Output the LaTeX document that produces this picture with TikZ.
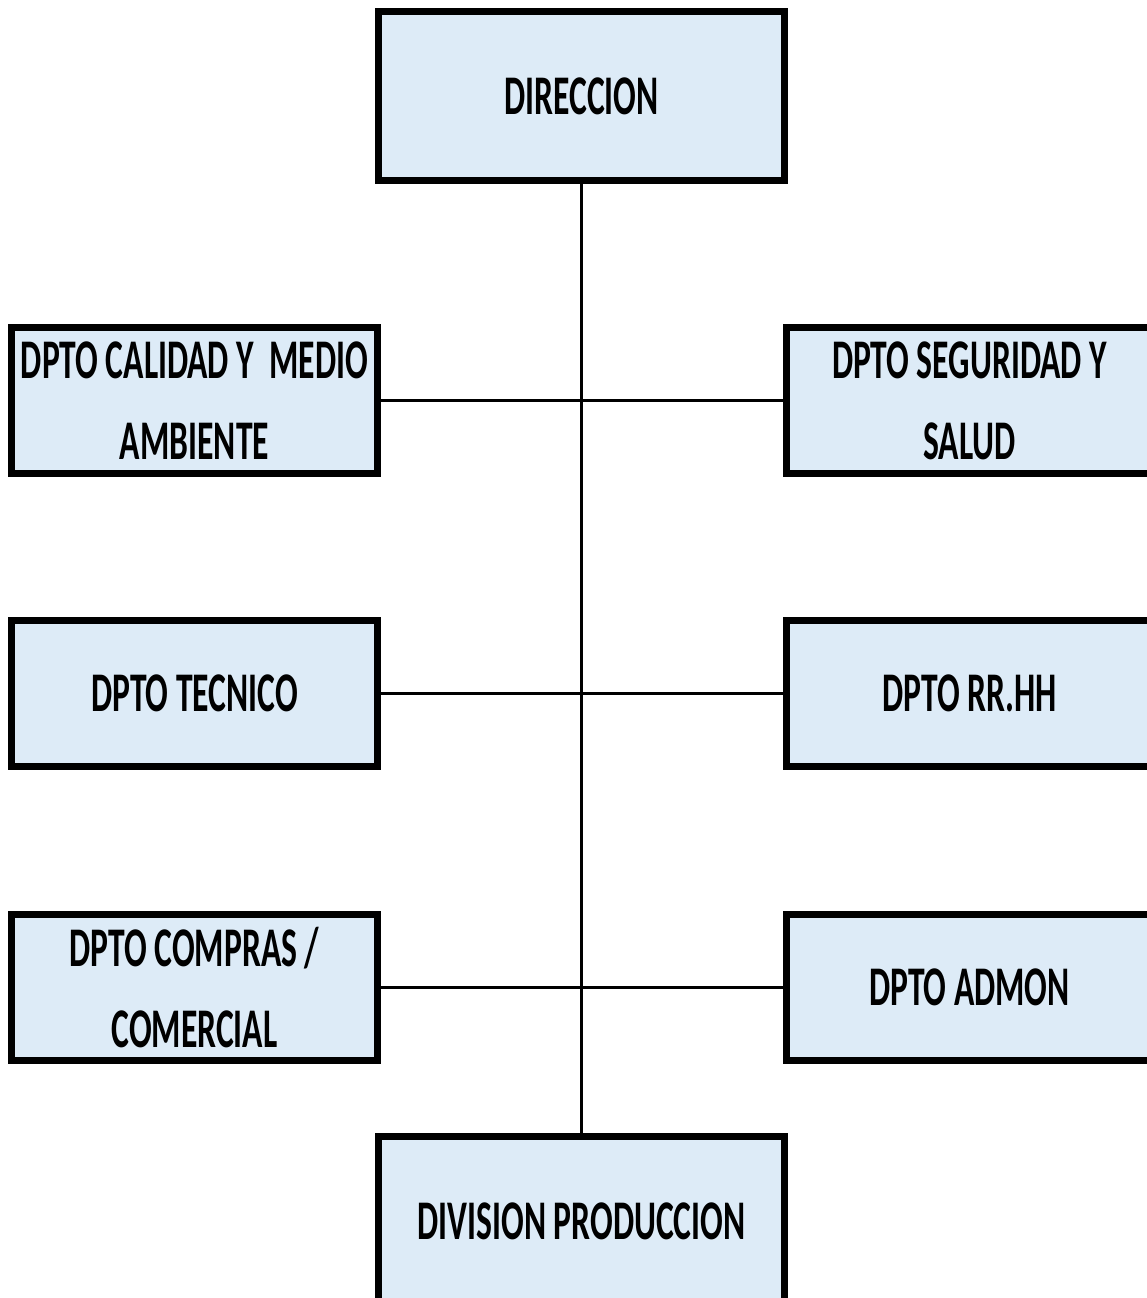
\documentclass[tikz,border=0pt]{standalone}
\usepackage{fontspec}
\setmainfont{Carlito}[FakeStretch=0.6]
\definecolor{boxfill}{HTML}{DDEBF7}
\tikzset{
  orgbox/.style={draw=black, line width=7pt, fill=boxfill, inner sep=0pt,
    align=center, font=\fontsize{56}{81}\selectfont\bfseries},
  sidebox/.style={orgbox, minimum width=366pt, minimum height=146pt},
  bigbox/.style={orgbox, minimum width=406pt, minimum height=169pt},
  link/.style={line width=3pt, draw=black}
}
\begin{document}
\begin{tikzpicture}[x=1pt,y=-1pt]
\useasboundingbox (0,0) rectangle (1146,1298);
\node[bigbox] (dir) at (581.5,96) {DIRECCION};
\node[bigbox] (div) at (581.5,1221) {DIVISION PRODUCCION};
\node[sidebox] (cal) at (194.5,400.5) {DPTO CALIDAD Y\ \ MEDIO\\AMBIENTE};
\node[sidebox] (tec) at (194.5,693.5) {DPTO TECNICO};
\node[sidebox] (com) at (194.5,987.5) {DPTO COMPRAS /\\COMERCIAL};
\node[sidebox] (seg) at (969.5,400.5) {DPTO SEGURIDAD Y\\SALUD};
\node[sidebox] (rrhh) at (969.5,693.5) {DPTO RR.HH};
\node[sidebox] (adm) at (969.5,987.5) {DPTO ADMON};
\draw[link] (dir.south) -- (div.north);
\draw[link] (cal.east) -- (seg.west);
\draw[link] (tec.east) -- (rrhh.west);
\draw[link] (com.east) -- (adm.west);
\end{tikzpicture}
\end{document}
